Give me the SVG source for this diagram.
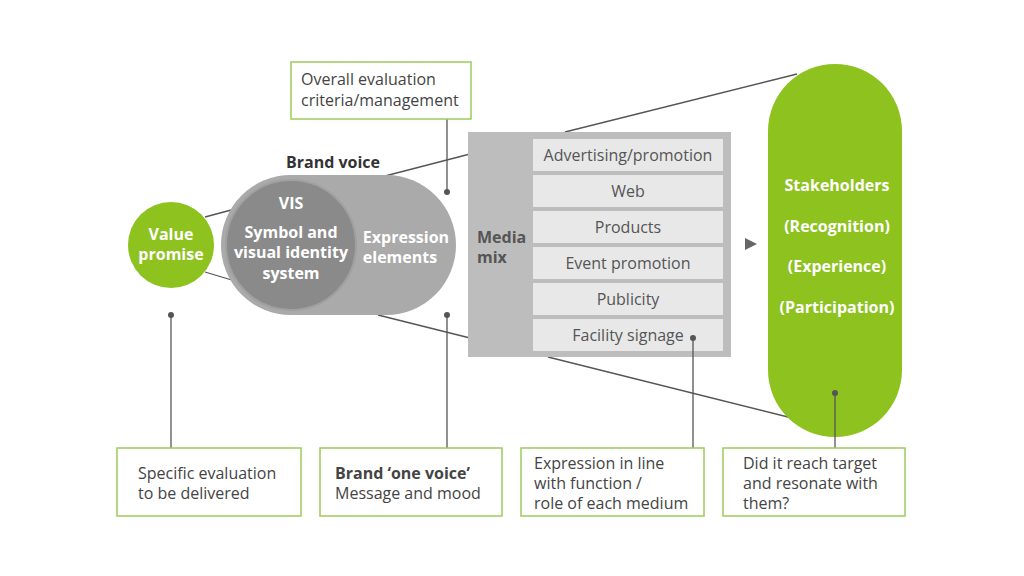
<svg xmlns="http://www.w3.org/2000/svg" width="1024" height="576" viewBox="0 0 1024 576">
<style>
text{font-family:"Open Sans","Liberation Sans",sans-serif}
.w{fill:#fff;font-weight:bold;font-size:16px;text-anchor:middle}
.item{fill:#e8e8e8}
.it{fill:#555;font-size:16px;text-anchor:middle}
.box{fill:#fff;stroke:#9ccc5a;stroke-width:1.5}
.bt{fill:#444;font-size:16px}
.ln{stroke:#555;stroke-width:1.3;fill:none}
.dot{fill:#555}
</style>
<rect width="1024" height="576" fill="#fff"/>
<g id="connectors">
<line class="ln" x1="205" y1="217" x2="235" y2="209"/>
<line class="ln" x1="205" y1="272" x2="235" y2="281"/>
<line class="ln" x1="385" y1="176" x2="470" y2="154"/>
<line class="ln" x1="378" y1="315" x2="470" y2="338"/>
<line class="ln" x1="565" y1="132" x2="797" y2="74"/>
<line class="ln" x1="548" y1="357" x2="792" y2="418"/>
<polygon points="745,238 757,244 745,250" fill="#666"/>
</g>
<g id="value"><circle cx="171" cy="245" r="43" fill="#8dc21f"/>
<text class="w" x="171" y="240" font-size="15">Value</text><text class="w" x="171" y="260" font-size="15">promise</text></g>
<g id="brandvoice">
<text x="333" y="168" font-size="16" font-weight="bold" fill="#333" text-anchor="middle">Brand voice</text>
<rect x="221" y="175" width="235" height="140" rx="70" fill="#aaa"/>
<circle cx="291" cy="245" r="65" fill="#8a8a8a" stroke="#a0a0a0" stroke-width="2"/>
<text class="w" x="291" y="209">VIS</text>
<text class="w" x="291" y="238">Symbol and</text><text class="w" x="291" y="258">visual identity</text><text class="w" x="291" y="279">system</text>
<text class="w" x="406" y="243">Expression</text><text class="w" x="400" y="263">elements</text>
</g>
<g id="media">
<rect x="468" y="132" width="263" height="225" fill="#bdbdbd"/>
<text x="477" y="243" font-size="16" font-weight="bold" fill="#555">Media</text>
<text x="477" y="263" font-size="16" font-weight="bold" fill="#555">mix</text>
<rect class="item" x="533" y="139" width="190" height="32"/><text class="it" x="628" y="161">Advertising/promotion</text>
<rect class="item" x="533" y="175" width="190" height="32"/><text class="it" x="628" y="197">Web</text>
<rect class="item" x="533" y="211" width="190" height="32"/><text class="it" x="628" y="233">Products</text>
<rect class="item" x="533" y="247" width="190" height="32"/><text class="it" x="628" y="269">Event promotion</text>
<rect class="item" x="533" y="283" width="190" height="32"/><text class="it" x="628" y="305">Publicity</text>
<rect class="item" x="533" y="319" width="190" height="32"/><text class="it" x="628" y="341">Facility signage</text>
</g>
<g id="stakeholders">
<rect x="768" y="64" width="134" height="373" rx="67" fill="#8dc21f"/>
<text class="w" x="837" y="191">Stakeholders</text>
<text class="w" x="837" y="232">(Recognition)</text>
<text class="w" x="837" y="272">(Experience)</text>
<text class="w" x="837" y="313">(Participation)</text>
</g>
<g id="leaders">
<line class="ln" x1="447" y1="119" x2="447" y2="192"/><circle class="dot" cx="447" cy="192" r="3"/>
<line class="ln" x1="171" y1="315" x2="171" y2="448"/><circle class="dot" cx="171" cy="315" r="3"/>
<line class="ln" x1="447" y1="315" x2="447" y2="448"/><circle class="dot" cx="447" cy="315" r="3"/>
<line class="ln" x1="693" y1="338" x2="693" y2="448"/><circle class="dot" cx="693" cy="338" r="3"/>
<line class="ln" x1="835" y1="393" x2="835" y2="448"/><circle class="dot" cx="835" cy="393" r="3"/>
</g>
<g id="overall"><rect class="box" x="291" y="62" width="180" height="57"/>
<text class="bt" x="301" y="85">Overall evaluation</text><text class="bt" x="301" y="106">criteria/management</text></g>
<g id="b1"><rect class="box" x="117" y="448" width="184" height="68"/>
<text class="bt" x="138" y="479">Specific evaluation</text><text class="bt" x="138" y="499">to be delivered</text></g>
<g id="b2"><rect class="box" x="320" y="448" width="182" height="68"/>
<text class="bt" x="335" y="479" font-weight="bold">Brand ‘one voice’</text><text class="bt" x="335" y="499">Message and mood</text></g>
<g id="b3"><rect class="box" x="521" y="448" width="183" height="68"/>
<text class="bt" x="534" y="469">Expression in line</text><text class="bt" x="534" y="489">with function /</text><text class="bt" x="534" y="509">role of each medium</text></g>
<g id="b4"><rect class="box" x="723" y="448" width="182" height="68"/>
<text class="bt" x="743" y="469">Did it reach target</text><text class="bt" x="743" y="489">and resonate with</text><text class="bt" x="743" y="509">them?</text></g>
</svg>
